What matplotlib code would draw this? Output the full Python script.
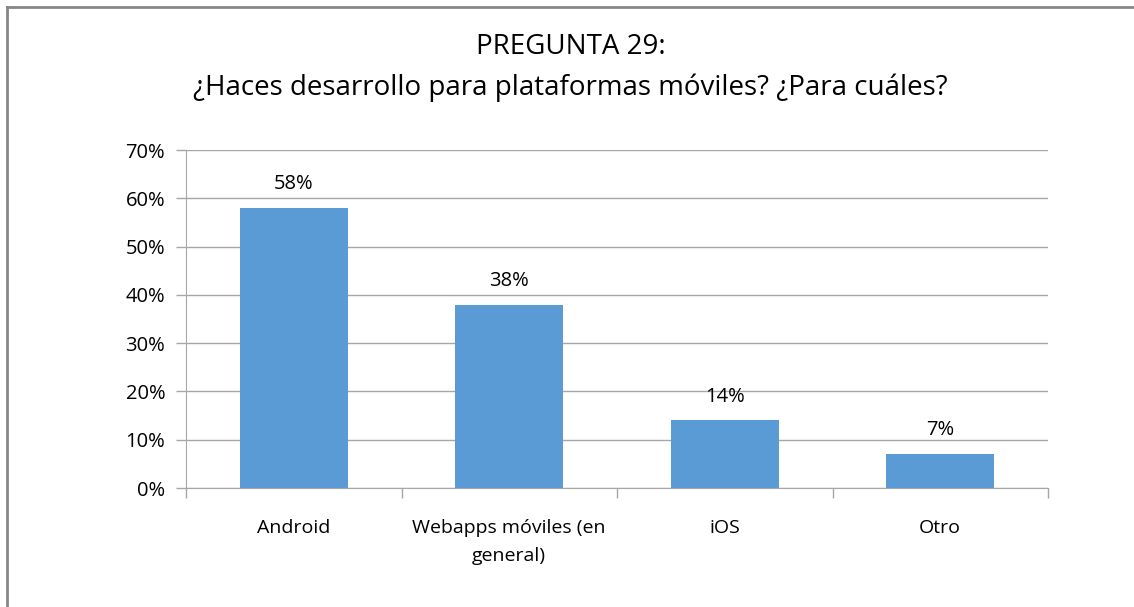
import matplotlib
matplotlib.use('Agg')
import matplotlib.pyplot as plt
from matplotlib.lines import Line2D

categories = ['Android', 'Webapps móviles (en\ngeneral)', 'iOS', 'Otro']
values = [0.58, 0.38, 0.14, 0.07]
labels = ['58%', '38%', '14%', '7%']
yticks = [0, 0.1, 0.2, 0.3, 0.4, 0.5, 0.6, 0.7]

plt.rcParams['font.family'] = ['Open Sans', 'DejaVu Sans']

fig = plt.figure(figsize=(11.34, 6.07), dpi=100)
ax = fig.add_axes([186 / 1134, 1 - 488 / 607, (1048 - 186) / 1134, (488 - 150) / 607])

x = range(len(categories))
bars = ax.bar(x, values, width=0.5, color='#5B9BD5', zorder=3)
for b, lab in zip(bars, labels):
    ax.annotate(lab, (b.get_x() + b.get_width() / 2, b.get_height()),
                xytext=(0, 10), textcoords='offset points',
                ha='center', va='bottom', fontsize=14.5, color='#000000')

ax.set_xlim(-0.5, len(categories) - 0.5)
ax.set_ylim(0, 0.7)
ax.set_yticks(yticks)
ax.set_yticklabels(['%d%%' % round(v * 100) for v in yticks], fontsize=14.5)
ax.yaxis.grid(True, color='#A6A6A6', linewidth=1, zorder=0)

# category labels between the boundary ticks
ax.set_xticks([i - 0.5 for i in range(len(categories) + 1)])
ax.set_xticklabels([])
ax.set_xticks(list(x), minor=True)
ax.set_xticklabels(categories, minor=True, fontsize=14, linespacing=1.75, va='top')
ax.tick_params(axis='x', which='minor', length=0, pad=22)
ax.tick_params(axis='x', which='major', length=7, color='#A6A6A6', width=1)
ax.tick_params(axis='y', length=7, color='#A6A6A6', width=1, pad=8)

for s in ['top', 'right']:
    ax.spines[s].set_visible(False)
ax.spines['left'].set_color('#A6A6A6')
ax.spines['bottom'].set_color('#A6A6A6')

fig.text(0.503, 1 - 47 / 607, 'PREGUNTA 29:', ha='center', va='center', fontsize=20)
fig.text(0.503, 1 - 88 / 607, '¿Haces desarrollo para plataformas móviles? ¿Para cuáles?',
         ha='center', va='center', fontsize=20)

# outer frame (left and top edges)
fig.add_artist(Line2D([7 / 1134, 7 / 1134], [0, 1 - 7 / 607], transform=fig.transFigure,
                      color='#878787', linewidth=2))
fig.add_artist(Line2D([7 / 1134, 1], [1 - 7 / 607, 1 - 7 / 607], transform=fig.transFigure,
                      color='#878787', linewidth=2))

fig.savefig('out.png', dpi=100)
